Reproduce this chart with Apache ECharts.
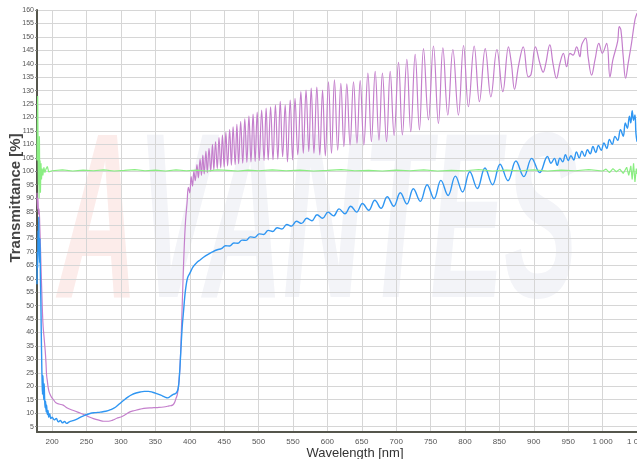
<!DOCTYPE html>
<html lang="en">

<head>
    <meta charset="UTF-8">
    <meta name="viewport" content="width=device-width, initial-scale=1.0">
    <title>Transmittance</title>
    <script src="https://cdn.jsdelivr.net/npm/echarts@6.0.0/dist/echarts.min.js"></script>
    <style>
        html, body { margin: 0; padding: 0; background: #fff; }
    </style>
</head>

<body>
    <div id="main" style="width: 637px;height:459px;"></div>
    <script type="text/javascript">
        // axis ranges (nm, %)
        var xRange = [178, 1050];
        var yRange = [3, 160];

        // purple curve [wavelength, transmittance]
        var purpleData = [
            [178, 92], [178.7, 86], [179.4, 90], [180.2, 84], [181, 86], [182, 80], [183, 72], [184, 63], [185, 55],
            [186, 47], [187, 42], [188, 39], [189, 36], [190, 33], [191, 29], [192, 24], [193, 22], [194, 20],
            [195.5, 18], [197, 17], [199, 16], [202, 15], [205, 14], [210, 13.4], [216, 13], [222, 11.9], [230, 11.1],
            [238, 10.3], [245, 9.6], [252, 8.8], [260, 8], [268, 7.4], [275, 7], [282, 7], [288, 7.4], [294, 8.1],
            [300, 8.6], [306, 9.4], [313, 10.5], [320, 11], [328, 11.5], [337, 11.9], [345, 12], [353, 12.1],
            [362, 12.3], [370, 12.7], [375, 13], [378, 14], [380, 15.5], [382, 17], [384, 21], [386, 28], [388, 42],
            [390, 58], [392, 72], [394, 82], [396, 88], [398, 94],
            [400, 92], [402, 98], [404, 94.5], [406, 100], [408, 96.5], [410.5, 102.5], [412.5, 97.5], [415, 104.5],
            [417, 98.5], [419, 106], [421, 99], [423.5, 107.5], [425.5, 99.5], [428, 108.5], [430.5, 100], [433, 110],
            [435, 100.5], [437.5, 111], [440, 101], [442.5, 112.5], [445, 101.3], [447.5, 113.5], [450, 101.6],
            [452.5, 114.5], [455, 102], [458, 115.5], [460.5, 102.3], [463, 116.5], [466, 102.5], [468.5, 117.5],
            [471, 102.8], [474, 118.5], [477, 103], [480, 119.5], [483, 103.3], [486, 120.5], [489, 103.5],
            [492, 121.3], [495, 103.7], [498, 122], [501, 104], [504.5, 122.8], [508, 104], [511, 123.5], [514, 104.2],
            [517.5, 124], [521, 104.3], [524.5, 124.7], [528, 104.5], [531.5, 126], [535, 105.4],
            [538.7, 124.7], [542, 103.5], [546, 126.5], [549.5, 104.2], [553, 127.1], [557, 106.1], [561.5, 129.6],
            [565, 106.7], [569, 130.2], [573, 107.3], [576.5, 130.9], [580.5, 106.7], [584.7, 131.3], [589, 106.1],
            [593, 130.2], [597, 105.7], [601.6, 133.3], [606, 106.7], [610.3, 134], [615, 107.9], [619.6, 132.7],
            [624, 109.2], [628.3, 132.5], [633, 109.8], [638, 133.3], [643, 110.4], [647.7, 133.7], [653, 109.8],
            [658.9, 136.5], [664, 111], [669.5, 137.2], [675, 111.6], [680, 136.5], [686, 111], [691.3, 137.2],
            [697, 113.3], [703.4, 140.5],
            [709, 113.5], [715.5, 141.6], [721.2, 114.7], [727.6, 143.5], [733.8, 115.4], [739.7, 145.6],
            [746.9, 119.1], [754.2, 146.6], [761.4, 117.8], [767.9, 145.9], [775, 120.9], [782.4, 145.3],
            [790.5, 120.9], [797.9, 146.8], [805, 124], [813.4, 146.6], [821, 125.9], [829.4, 145.6], [837.6, 127.7],
            [846.4, 145.3], [855, 129.6], [863.2, 146.3], [867.5, 140], [872, 130.5], [878, 139.5], [884.7, 146.3],
            [892, 135.1], [896, 136], [902.4, 146.3], [908.8, 140.2], [913.6, 136.9], [917, 139.5], [923.3, 147],
            [928, 140], [933, 134.6], [938, 140.2], [943, 143.9], [947.7, 138.9], [952.6, 143.9], [957, 143.2],
            [962.3, 146.3], [967, 142.6], [969.6, 147], [975.4, 149.5], [979, 142.5], [984, 135.8], [989, 141.5],
            [994.6, 147.6], [999.6, 143.9], [1005.9, 147.6], [1010.7, 135.1], [1015, 141.5], [1021.8, 148.2],
            [1024.2, 153.8], [1026.6, 152.6], [1030, 142.6], [1033.4, 134.6], [1037.2, 140.2], [1042, 147.6],
            [1047, 156.3], [1050, 158.8]
        ];

        // blue curve
        var blueData = [
            [178, 58], [178.5, 70], [179, 64], [179.5, 78], [180, 72], [180.5, 83], [181, 74], [181.7, 66],
            [182.3, 75], [183, 60], [183.6, 52], [184.2, 40], [184.8, 30], [185.4, 22], [186, 17], [186.6, 24],
            [187.2, 19], [187.8, 15], [188.4, 21], [189, 16], [189.8, 12], [190.5, 14.5], [191.3, 10.5], [192, 13],
            [193, 9.5], [194, 11], [195, 8.5], [196.5, 9.8], [198, 8], [200, 8.5], [203, 7.5], [206, 8], [209, 6.8],
            [212, 7.3], [215, 6.4], [218, 6.9], [221, 6.2], [225, 6.8], [230, 7.2], [236, 7.8], [242, 8.6],
            [248, 9.3], [255, 9.9], [262, 10.2], [270, 10.4], [278, 10.7], [285, 11.3], [292, 12.2], [298, 13.5],
            [304, 14.8], [310, 16], [316, 16.9], [322, 17.5], [328, 17.9], [334, 18.1], [340, 18.1], [346, 17.8],
            [352, 17.3], [358, 16.7], [364, 16], [368, 15.7], [372, 16.3], [376, 17], [380, 17.4], [383, 19],
            [385, 24], [387, 33], [389, 42], [391, 48], [393, 54], [395, 58], [397, 60.5], [400, 62], [405, 64.5],
            [410, 66], [415, 67], [420, 68], [426, 69], [433, 70], [440, 70.8], [446, 71.2], [452, 72.3], [458, 72.2],
            [464, 73.3], [470, 73.2], [476, 74.4], [482, 74.3], [488, 75.6], [494.5, 75.4], [501, 76.7],
            [507.5, 76.5], [514, 78], [520.5, 77.6], [527, 79], [534, 78.5], [541, 80.2], [548, 79.6], [555, 81.4],
            [562.5, 80.6], [570, 82.5], [577.5, 81.6], [585, 83.8], [593, 82.5], [601, 84.8], [609, 83.4], [617, 86],
            [625.5, 84.2], [634, 87], [642.5, 84.8], [651, 88], [660, 85.5], [669, 89.2], [678, 86.2], [687, 90.5],
            [696.5, 87], [706, 92], [715.5, 87.8], [725, 93.5], [735, 88.8], [745, 95], [755, 89.8], [765, 96.6],
            [775.5, 91], [786, 98.2], [796.5, 92.3], [807, 99.8], [818, 93.6], [829, 101.2], [840, 95], [851, 102.6],
            [862.5, 96.5], [874, 103.8], [885.5, 98], [897, 104.8], [908.5, 99.5], [920, 105.5], [925, 103],
            [930, 104.8], [934, 102.2], [938, 104.9], [942, 103.5], [946, 106.2], [950, 104], [954, 105.8],
            [958, 104.2], [962, 107.2], [966, 105], [970, 107.5], [974, 105.6], [978, 108], [982, 106.5],
            [986, 109.2], [990, 107], [994, 109.6], [998, 107.8], [1002, 110.5], [1006, 108.5], [1010, 111.8],
            [1014, 110], [1018, 113], [1022, 111.5], [1026, 115.5], [1030, 113], [1033, 118], [1036, 116],
            [1039, 120.5], [1041, 118], [1043, 122.5], [1045, 119], [1047, 121], [1048.5, 114], [1050, 111]
        ];

        // green reference curve (~100 %)
        var greenData = [
            [178, 104], [178.5, 118], [179, 128], [179.5, 112], [180, 95], [180.5, 108], [181, 90], [181.5, 113],
            [182, 96], [182.5, 104], [183, 92], [183.8, 103], [184.5, 97], [185.5, 101], [186.5, 98.5], [188, 101.5],
            [189.5, 99.5], [191, 100.8], [193, 101.8], [195, 99.8], [197, 100.5], [200, 100.2], [215, 100.5],
            [230, 100.1], [245, 100.4], [260, 100.2], [275, 100.5], [290, 100.1], [305, 100.3], [320, 100.6],
            [335, 100.2], [350, 100.4], [365, 100.1], [380, 100.5], [395, 100.2], [410, 100.4], [425, 100.1],
            [440, 100.5], [455, 100.3], [470, 100.1], [485, 100.4], [500, 100.2], [520, 100.5], [540, 100.2],
            [560, 100.4], [580, 100.1], [600, 100.3], [620, 100.6], [640, 100.2], [660, 100.3], [680, 100.1],
            [700, 100.4], [720, 100.2], [740, 100.5], [760, 100.1], [780, 100.3], [800, 100.2], [820, 100.6],
            [840, 100.1], [860, 100.4], [880, 100.2], [900, 100.5], [920, 100.1], [940, 100.4], [960, 100.2],
            [980, 100.6], [1000, 100.1], [1005, 100.8], [1010, 99.5], [1015, 101], [1020, 99.8], [1025, 100.8],
            [1030, 99.2], [1035, 101.5], [1038, 98.5], [1041, 102], [1043, 97], [1045, 103], [1047, 96],
            [1049, 101], [1050, 99]
        ];

        var myChart = echarts.init(document.getElementById('main'));

        var option = {
            animation: false,
            backgroundColor: '#fff',
            textStyle: { fontFamily: 'Liberation Sans, Arial, sans-serif' },
            grid: { left: 37, right: 0, top: 10, bottom: 27, containLabel: false, outerBoundsMode: 'none' },
            // faint watermark behind the plot
            graphic: [
                {
                    type: 'text',
                    z: -10,
                    left: 58,
                    top: 115,
                    scaleX: 0.47,
                    style: {
                        text: '{a|A}{b|VANTES}',
                        rich: {
                            a: { fontSize: 235, fontWeight: 'bold', fontStyle: 'italic', fill: '#fcecea' },
                            b: { fontSize: 235, fontWeight: 'bold', fontStyle: 'italic', fill: '#f3f4f8' }
                        }
                    }
                }
            ],
            xAxis: {
                type: 'value',
                min: xRange[0],
                max: xRange[1],
                splitNumber: 17,
                minInterval: 50,
                maxInterval: 50,
                name: 'Wavelength [nm]',
                nameLocation: 'middle',
                nameGap: 15,
                nameMoveOverlap: false,
                nameTextStyle: { fontSize: 13, color: '#333', padding: [0, 0, 0, 36] },
                axisLine: { lineStyle: { color: '#55564c', width: 2 } },
                axisTick: { show: false },
                axisLabel: {
                    fontSize: 8,
                    color: '#555',
                    margin: 6,
                    showMinLabel: false,
                    formatter: function (v) {
                        return v >= 1000 ? '1 ' + String(v).slice(1) : String(v);
                    }
                },
                splitLine: { lineStyle: { color: '#d6d6d6', width: 1 } }
            },
            yAxis: {
                type: 'value',
                min: yRange[0],
                max: yRange[1],
                splitNumber: 31,
                minInterval: 5,
                maxInterval: 5,
                name: 'Transmittance [%]',
                nameLocation: 'middle',
                nameGap: 14,
                nameMoveOverlap: false,
                nameTextStyle: { fontSize: 15, fontWeight: 'bold', color: '#444', padding: [0, 0, 0, 46] },
                axisLine: { lineStyle: { color: '#55564c', width: 2 } },
                axisTick: { show: true, length: 2, lineStyle: { color: '#888' } },
                axisLabel: { fontSize: 7, color: '#555', margin: 3, showMinLabel: false },
                splitLine: { lineStyle: { color: '#d6d6d6', width: 1 } }
            },
            series: [
                {
                    type: 'line',
                    data: purpleData,
                    showSymbol: false,
                    smooth: 0.4,
                    lineStyle: { color: '#c47fcc', width: 1.2 }
                },
                {
                    type: 'line',
                    data: blueData,
                    showSymbol: false,
                    smooth: 0.4,
                    lineStyle: { color: '#2f96f2', width: 1.4 }
                },
                {
                    type: 'line',
                    data: greenData,
                    showSymbol: false,
                    lineStyle: { color: '#8aee82', width: 1.2 }
                }
            ]
        };

        myChart.setOption(option);
    </script>
</body>

</html>
